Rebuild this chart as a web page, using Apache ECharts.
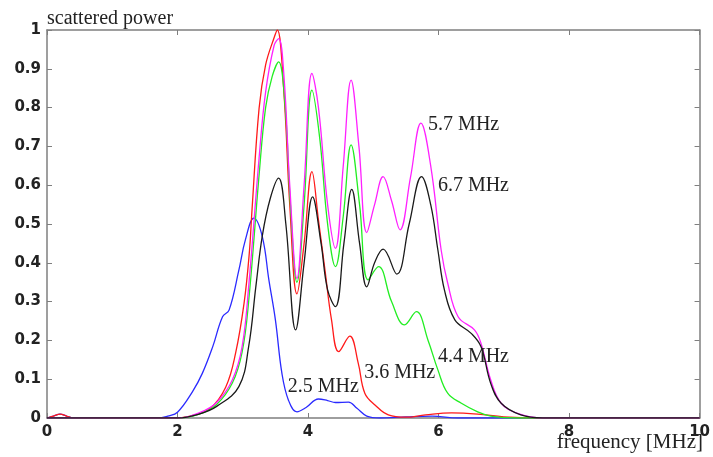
<!DOCTYPE html>
<html>
<head>
<meta charset="utf-8">
<script src="https://cdn.jsdelivr.net/npm/echarts@6/dist/echarts.min.js"></script>
<style>html,body{margin:0;padding:0;background:#fff}#c{width:713px;height:457px}</style>
</head>
<body>
<div id="c"></div>
<script>
// 2.5 MHz (blue)
var blueX = [0, 0.1, 0.2, 0.3, 0.4, 1.7, 1.85, 2.0, 2.23, 2.38, 2.54, 2.69, 2.79, 2.94, 3.04, 3.17, 3.30, 3.40, 3.50, 3.60, 3.70, 3.83, 3.97, 4.16, 4.30, 4.42, 4.62, 4.75, 4.9, 5.1, 5.5, 5.9, 6.3, 7.0, 10];
var blueY = [0, 0.005, 0.01, 0.005, 0, 0, 0.005, 0.015, 0.068, 0.115, 0.184, 0.261, 0.278, 0.381, 0.459, 0.515, 0.467, 0.356, 0.253, 0.115, 0.046, 0.016, 0.027, 0.049, 0.045, 0.04, 0.041, 0.025, 0.005, 0, 0.003, 0.005, 0, 0, 0];
// 3.6 MHz (red)
var redX = [0, 0.1, 0.2, 0.3, 0.4, 1.9, 2.2, 2.5, 2.74, 2.89, 3.02, 3.10, 3.14, 3.25, 3.35, 3.48, 3.53, 3.63, 3.72, 3.83, 3.94, 4.06, 4.16, 4.26, 4.36, 4.47, 4.64, 4.77, 4.87, 5.03, 5.23, 5.5, 5.8, 6.2, 6.6, 7.0, 7.5, 10];
var redY = [0, 0.005, 0.01, 0.005, 0, 0, 0.005, 0.025, 0.08, 0.167, 0.296, 0.425, 0.532, 0.798, 0.91, 0.98, 1.0, 0.84, 0.55, 0.32, 0.45, 0.635, 0.51, 0.381, 0.253, 0.171, 0.211, 0.141, 0.064, 0.033, 0.008, 0.002, 0.008, 0.013, 0.01, 0.003, 0, 0];
// 4.4 MHz (green)
var greenX = [0, 2.0, 2.33, 2.6, 2.84, 2.99, 3.09, 3.25, 3.35, 3.45, 3.55, 3.65, 3.73, 3.83, 3.94, 4.06, 4.18, 4.30, 4.42, 4.54, 4.66, 4.79, 4.92, 5.08, 5.28, 5.48, 5.66, 5.84, 5.99, 6.14, 6.35, 6.6, 6.8, 7.2, 10];
var greenY = [0, 0, 0.01, 0.035, 0.09, 0.17, 0.3, 0.626, 0.8, 0.88, 0.918, 0.8, 0.55, 0.35, 0.55, 0.845, 0.72, 0.5, 0.39, 0.52, 0.704, 0.55, 0.356, 0.39, 0.3, 0.24, 0.274, 0.2, 0.124, 0.064, 0.038, 0.016, 0.005, 0, 0];
// 5.7 MHz (magenta)
var magX = [0, 2.0, 2.33, 2.6, 2.84, 2.99, 3.09, 3.25, 3.35, 3.48, 3.55, 3.63, 3.72, 3.83, 3.94, 4.06, 4.16, 4.30, 4.42, 4.54, 4.66, 4.78, 4.90, 5.02, 5.15, 5.28, 5.41, 5.57, 5.73, 5.88, 6.04, 6.14, 6.30, 6.55, 6.65, 6.80, 6.96, 7.21, 7.6, 10];
var magY = [0, 0, 0.013, 0.04, 0.098, 0.184, 0.338, 0.67, 0.84, 0.96, 0.978, 0.884, 0.6, 0.36, 0.6, 0.888, 0.8, 0.55, 0.437, 0.65, 0.871, 0.7, 0.478, 0.55, 0.622, 0.56, 0.485, 0.62, 0.76, 0.65, 0.433, 0.348, 0.261, 0.227, 0.193, 0.098, 0.038, 0.012, 0, 0];
// 6.7 MHz (black)
var blackX = [0, 2.0, 2.33, 2.6, 2.94, 3.09, 3.20, 3.30, 3.42, 3.55, 3.66, 3.81, 3.94, 4.07, 4.2, 4.3, 4.42, 4.55, 4.67, 4.79, 4.90, 5.02, 5.15, 5.36, 5.55, 5.74, 5.88, 5.99, 6.09, 6.25, 6.50, 6.65, 6.80, 6.96, 7.26, 7.6, 10];
var blackY = [0, 0, 0.01, 0.03, 0.081, 0.184, 0.338, 0.47, 0.565, 0.618, 0.5, 0.227, 0.4, 0.57, 0.45, 0.33, 0.287, 0.45, 0.589, 0.45, 0.338, 0.4, 0.435, 0.371, 0.5, 0.622, 0.55, 0.433, 0.33, 0.253, 0.218, 0.184, 0.089, 0.038, 0.008, 0, 0];

var seriesNames = ['2.5 MHz', '3.6 MHz', '4.4 MHz', '5.7 MHz', '6.7 MHz'];
var xTicks = [0, 2, 4, 6, 8, 10];

function zip(xs, ys) { return xs.map(function (x, i) { return [x, ys[i]]; }); }

var serif = 'Liberation Serif';
function lineSeries(name, xs, ys, color, labelCoord) {
  return {
    name: name, type: 'line', data: zip(xs, ys), smooth: 0.4,
    showSymbol: false, symbol: 'none',
    lineStyle: { color: color, width: 1.3 },
    z: 3,
    markPoint: labelCoord ? {
      symbol: 'circle', symbolSize: 0, silent: true,
      data: [{ coord: labelCoord, value: name }],
      label: { show: true, position: 'right', distance: 0, formatter: name,
        fontFamily: serif, fontSize: 20, color: '#222' }
    } : undefined
  };
}

var chart = echarts.init(document.getElementById('c'), null, { renderer: 'canvas' });
var axisGray = '#7f7f7f';
chart.setOption({
  animation: false,
  backgroundColor: '#fff',
  grid: { left: 47, right: 10, top: 30, bottom: 39, containLabel: false },
  title: { text: 'scattered power', left: 42, top: 4,
    textStyle: { fontFamily: serif, fontSize: 20, fontWeight: 'normal', color: '#222' } },
  graphic: [{ type: 'text', right: 10, top: 432,
    style: { text: 'frequency [MHz]', fontFamily: serif, fontSize: 21, fill: '#222' } }],
  xAxis: [
    { type: 'value', min: 0, max: 10, interval: 2, position: 'bottom',
      axisLine: { show: true, lineStyle: { color: axisGray, width: 1.5 } },
      axisTick: { show: true, inside: true, length: 5, lineStyle: { color: axisGray } },
      splitLine: { show: false },
      axisLabel: { margin: 7, fontFamily: 'DejaVu Sans', fontWeight: 'bold', fontSize: 15, color: '#222',
        customValues: xTicks } },
    { type: 'value', min: 0, max: 10, interval: 2, position: 'top',
      axisLine: { show: true, onZero: false, lineStyle: { color: axisGray, width: 1.5 } },
      axisTick: { show: true, inside: true, length: 5, lineStyle: { color: axisGray } },
      splitLine: { show: false }, axisLabel: { show: false } }
  ],
  yAxis: [
    { type: 'value', min: 0, max: 1, interval: 0.1, position: 'left',
      axisLine: { show: true, lineStyle: { color: axisGray, width: 1.5 } },
      axisTick: { show: true, inside: true, length: 5, lineStyle: { color: axisGray } },
      splitLine: { show: false },
      axisLabel: { margin: 6, fontFamily: 'DejaVu Sans', fontWeight: 'bold', fontSize: 15, color: '#222',
        formatter: function (v) { return String(Math.round(v * 10) / 10); } } },
    { type: 'value', min: 0, max: 1, interval: 0.1, position: 'right',
      axisLine: { show: true, onZero: false, lineStyle: { color: axisGray, width: 1.5 } },
      axisTick: { show: true, inside: true, length: 5, lineStyle: { color: axisGray } },
      splitLine: { show: false }, axisLabel: { show: false } }
  ],
  series: [
    lineSeries(seriesNames[0], blueX, blueY, '#2a2aff', [3.69, 0.08]),
    lineSeries(seriesNames[1], redX, redY, '#ff1a1a', [4.86, 0.116]),
    lineSeries(seriesNames[2], greenX, greenY, '#22ee22', [5.99, 0.158]),
    lineSeries(seriesNames[3], magX, magY, '#ff20ff', [5.84, 0.757]),
    lineSeries(seriesNames[4], blackX, blackY, '#1a1a1a', [5.99, 0.598])
  ]
});
</script>
</body>
</html>
